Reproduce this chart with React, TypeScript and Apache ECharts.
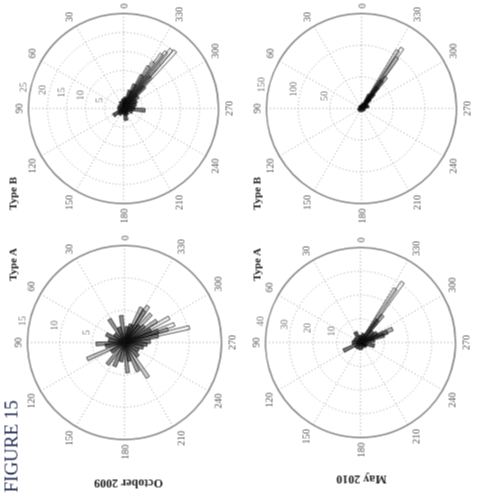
import React, { useEffect, useRef } from "react";
import * as echarts from "echarts";

// ---------- data (angles in degrees, counter-clockwise from the 0 direction) ----------
const angleTickLabels = ["0", "30", "60", "90", "120", "150", "180", "210", "240", "270", "300", "330"];

// October 2009, Type A (radial max 15)
const octATicks = [5, 10, 15];
const octAAngles = [283, 290, 299, 287, 304, 317, 328, 327, 334, 281, 289, 295, 310, 320, 340, 350, 7, 20, 33, 50, 66, 80, 93, 100, 114, 125, 142, 157, 170, 186, 195, 205, 214, 225, 240, 255, 265, 272];
const octAValues = [10.3, 8.2, 7.9, 7.0, 6.0, 6.0, 5.8, 6.7, 6.0, 5.3, 5.5, 4.5, 4.0, 3.5, 3.0, 2.5, 4.2, 2.5, 4.3, 2.0, 3.1, 2.5, 4.4, 3.0, 6.3, 2.5, 4.3, 4.0, 3.0, 4.7, 3.0, 4.9, 6.5, 3.0, 2.5, 3.0, 3.5, 4.0];

// October 2009, Type B (radial max 25)
const octBTicks = [5, 10, 15, 20, 25];
const octBAngles = [318, 321, 323, 325, 327, 329, 331, 320, 316, 335, 340, 310, 300, 290, 265, 275, 250, 230, 193, 210, 170, 125, 145, 100, 60, 20, 0, 350];
const octBValues = [20.4, 20.0, 18.7, 17.5, 14.5, 12.9, 10.0, 11.0, 8.0, 7.0, 5.0, 5.0, 4.0, 3.5, 5.7, 3.0, 2.5, 1.5, 3.2, 2.0, 1.5, 3.2, 2.0, 1.5, 1.5, 2.0, 2.5, 3.0];

// May 2010, Type A (radial max 40)
const mayATicks = [10, 20, 30, 40];
const mayAAngles = [325, 327, 321, 323, 293, 291, 287, 300, 310, 280, 116, 26, 257, 340, 0, 60, 90, 140, 180, 220, 240];
const mayAValues = [31, 27, 14.8, 12, 14.6, 12.2, 10.4, 8, 7, 6, 7.9, 4.9, 6, 4, 3, 3, 3.5, 3, 3, 2.5, 3];

// May 2010, Type B (radial max 150)
const mayBTicks = [50, 100, 150];
const mayBAngles = [326, 328, 325, 322, 324, 323, 320, 318, 330, 292, 300, 340, 270, 200, 120, 90, 30, 0];
const mayBValues = [115, 108, 98, 63, 55, 42, 30, 20, 25, 12, 10, 8, 6, 5, 6, 4, 5, 5];

const rowLabels = ["October 2009", "May 2010"];
const colLabels = ["Type A", "Type B"];
const figureLabel = "FIGURE 15";

const LABEL_ANGLE = 82;

const panels = [
  { center: [151, 124], radius: 97, step: 5, ticks: octATicks, angles: octAAngles, values: octAValues },
  { center: [385, 123], radius: 95, step: 5, ticks: octBTicks, angles: octBAngles, values: octBValues },
  { center: [151, 360], radius: 95, step: 10, ticks: mayATicks, angles: mayAAngles, values: mayAValues },
  { center: [385, 361], radius: 95, step: 50, ticks: mayBTicks, angles: mayBAngles, values: mayBValues },
];

const SERIF = '"Liberation Serif", "DejaVu Serif", serif';

export default function App() {
  const ref = useRef<HTMLDivElement>(null);

  useEffect(() => {
    if (!ref.current) return;
    const chart = echarts.init(ref.current, undefined, { renderer: "svg" });

    const dotted = { color: "#a0a0a0", width: 1, type: [1, 2.5] as any };

    const barSeries = panels.map((p, i) => {
      const maxR = p.ticks[p.ticks.length - 1];
      return {
        type: "custom",
        coordinateSystem: "polar",
        polarIndex: i,
        silent: true,
        z: 3,
        data: p.values.map((v, k) => [v, p.angles[k]]),
        renderItem: (_params: any, api: any) => {
          const r = api.value(0);
          const a = api.value(1);
          const c = api.coord([0, a]);
          const t = api.coord([r, a]);
          const dx = t[0] - c[0];
          const dy = t[1] - c[1];
          const len = Math.hypot(dx, dy) || 1;
          const nx = -dy / len;
          const ny = dx / len;
          const hw = 1.9;
          const hb = 1.0;
          const frac = r / maxR;
          const alpha = Math.max(0.04, Math.min(0.75, 0.85 - 1.5 * frac));
          return {
            type: "polygon",
            shape: {
              points: [
                [c[0] + nx * hb, c[1] + ny * hb],
                [t[0] + nx * hw, t[1] + ny * hw],
                [t[0] - nx * hw, t[1] - ny * hw],
                [c[0] - nx * hb, c[1] - ny * hb],
              ],
            },
            style: { fill: `rgba(0,0,0,${alpha.toFixed(2)})`, stroke: "rgba(20,20,20,0.85)", lineWidth: 0.8 },
          };
        },
      };
    });

    const labelSeries = panels.map((p, i) => ({
      type: "scatter",
      coordinateSystem: "polar",
      polarIndex: i,
      silent: true,
      z: 4,
      symbol: "circle",
      symbolSize: 0,
      itemStyle: { color: "transparent" },
      data: p.ticks.map((t) => [t, LABEL_ANGLE]),
      label: {
        show: true,
        position: "right",
        distance: 3,
        offset: [0, -6],
        formatter: (q: any) => String(q.value[0]),
        fontFamily: SERIF,
        fontSize: 10,
        color: "#555",
      },
    }));

    const textStyle = (text: string, font: string, fill: string) => ({
      text,
      font,
      fill,
      align: "center",
      verticalAlign: "middle",
    });

    const option: any = {
      animation: false,
      backgroundColor: "#fff",
      polar: panels.map((p) => ({ center: p.center, radius: p.radius })),
      angleAxis: panels.map((p, i) => ({
        polarIndex: i,
        type: "value",
        min: 0,
        max: 360,
        interval: 30,
        startAngle: 0,
        clockwise: false,
        axisLine: { show: true, lineStyle: { color: "#8c8c8c", width: 1.6 } },
        axisTick: { show: false },
        axisLabel: {
          margin: 5,
          fontFamily: SERIF,
          fontSize: 10,
          color: "#555",
          formatter: (v: number) => {
            const idx = Math.round(v / 30);
            return idx >= 0 && idx < angleTickLabels.length && v < 360 ? angleTickLabels[idx] : "";
          },
        },
        splitLine: { show: true, lineStyle: dotted },
      })),
      radiusAxis: panels.map((p, i) => ({
        polarIndex: i,
        type: "value",
        min: 0,
        max: p.ticks[p.ticks.length - 1],
        interval: p.step,
        axisLine: { show: false },
        axisTick: { show: false },
        axisLabel: { show: false },
        splitLine: { show: true, lineStyle: dotted },
      })),
      series: [...barSeries, ...labelSeries],
      graphic: [
        {
          type: "text",
          x: 1,
          y: 10,
          style: { text: figureLabel, font: `19px ${SERIF}`, fill: "#1f2a4f", align: "left", verticalAlign: "middle" },
        },
        { type: "text", x: 10, y: 128, rotation: Math.PI / 2, style: textStyle(rowLabels[0], `bold 12px ${SERIF}`, "#222") },
        { type: "text", x: 14, y: 361, rotation: Math.PI / 2, style: textStyle(rowLabels[1], `bold 12px ${SERIF}`, "#222") },
        { type: "text", x: 229, y: 12, style: textStyle(colLabels[0], `bold 11px ${SERIF}`, "#222") },
        { type: "text", x: 229, y: 256, style: textStyle(colLabels[0], `bold 11px ${SERIF}`, "#222") },
        { type: "text", x: 300, y: 12, style: textStyle(colLabels[1], `bold 11px ${SERIF}`, "#222") },
        { type: "text", x: 300, y: 256, style: textStyle(colLabels[1], `bold 11px ${SERIF}`, "#222") },
      ],
    };

    chart.setOption(option);
    return () => chart.dispose();
  }, []);

  return (
    <div
      ref={ref}
      style={{
        position: "fixed",
        left: -2.5,
        top: 2.5,
        width: 493,
        height: 488,
        transform: "rotate(-90deg)",
        transformOrigin: "50% 50%",
        background: "#fff",
      }}
    />
  );
}
